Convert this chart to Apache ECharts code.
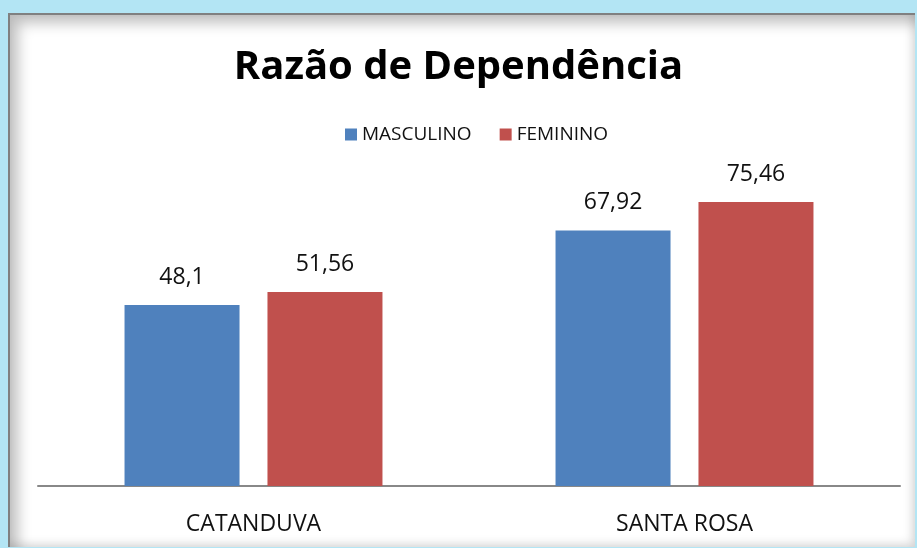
<!DOCTYPE html>
<html><head><meta charset="utf-8">
<script src="https://cdn.jsdelivr.net/npm/echarts@6/dist/echarts.min.js"></script>
<style>
html,body{margin:0;padding:0;background:#b3e5f4;width:917px;height:548px;overflow:hidden;}
#frame{position:absolute;left:8px;top:13px;width:905px;height:532px;background:#fff;border-left:2px solid #808080;border-top:2px solid #808080;box-shadow:inset 8px 8px 14px rgba(0,0,0,0.25), inset -4px -4px 8px rgba(0,0,0,0.12);}
#c{position:absolute;left:0;top:0;width:917px;height:548px;}
</style></head><body>
<div id="frame"></div>
<div id="c"></div>
<script>
const categories = ['CATANDUVA', 'SANTA ROSA'];
const masculino = [48.1, 67.92];
const feminino = [51.56, 75.46];
const seriesNames = ['MASCULINO', 'FEMININO'];

const chart = echarts.init(document.getElementById('c'), null, {renderer:'canvas'});
const lbl = {show:true, position:'top', distance:16, color:'#111', fontSize:23, fontFamily:'Open Sans', formatter:p=>String(p.value).replace('.',',')};
chart.setOption({
  animation:false,
  backgroundColor:'transparent',
  title:{text:'Razão de Dependência', left:'center', top:43, textStyle:{fontFamily:'Open Sans', fontWeight:'bold', fontSize:40, color:'#000'}},
  legend:{top:120, left:340, itemWidth:12, itemHeight:12, itemGap:28, icon:'rect', textStyle:{fontFamily:'Open Sans', fontSize:19, color:'#111'}, data:seriesNames},
  grid:{left:38, right:17, top:185, bottom:62},
  xAxis:{type:'category', data:categories, axisTick:{show:false}, axisLine:{lineStyle:{color:'#888', width:2}}, axisLabel:{fontFamily:'Open Sans', fontSize:23, color:'#111', margin:27}},
  yAxis:{type:'value', min:0, max:80, show:false, splitLine:{show:false}},
  series:[
    {name:seriesNames[0], type:'bar', data:masculino, barWidth:115, barGap:'24.3%', itemStyle:{color:'#4f81bd'}, label:lbl},
    {name:seriesNames[1], type:'bar', data:feminino, barWidth:115, itemStyle:{color:'#c0504d'}, label:lbl}
  ]
});
</script></body></html>
